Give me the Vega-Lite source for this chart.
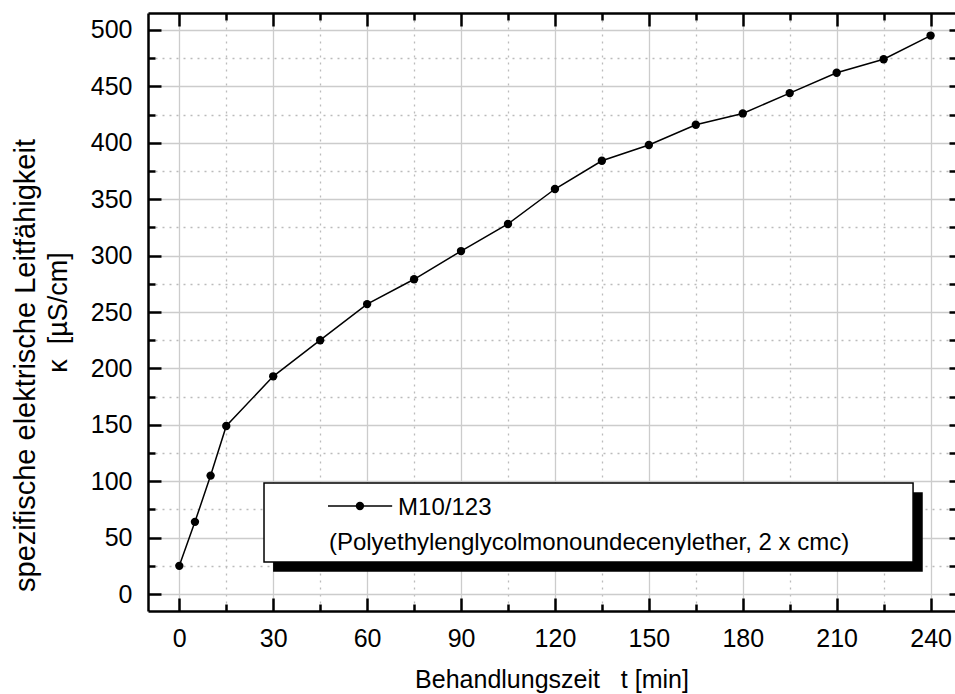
{
  "$schema": "https://vega.github.io/schema/vega-lite/v6.json",
  "width": 807,
  "height": 598,
  "autosize": {"type": "none"},
  "padding": {"left": 148, "top": 13, "right": 0, "bottom": 83},
  "background": "white",
  "title": {
    "text": "spezifische elektrische Leitfähigkeit",
    "orient": "left",
    "anchor": "start",
    "frame": "group",
    "dx": 19,
    "fontSize": 29,
    "fontWeight": "normal",
    "color": "black",
    "offset": 3
  },
  "config": {
    "font": "Liberation Sans",
    "view": {"stroke": null},
    "axis": {"labelColor": "black", "titleColor": "black", "titleFontWeight": "normal"}
  },
  "data": {
    "values": [
      {"t": 0, "kappa": 25},
      {"t": 5, "kappa": 64},
      {"t": 10, "kappa": 105},
      {"t": 15, "kappa": 149},
      {"t": 30, "kappa": 193},
      {"t": 45, "kappa": 225},
      {"t": 60, "kappa": 257},
      {"t": 75, "kappa": 279},
      {"t": 90, "kappa": 304},
      {"t": 105, "kappa": 328},
      {"t": 120, "kappa": 359},
      {"t": 135, "kappa": 384},
      {"t": 150, "kappa": 398},
      {"t": 165, "kappa": 416},
      {"t": 180, "kappa": 426},
      {"t": 195, "kappa": 444},
      {"t": 210, "kappa": 462},
      {"t": 225, "kappa": 474},
      {"t": 240, "kappa": 495}
    ]
  },
  "layer": [
    {
      "mark": {"type": "line", "color": "black", "strokeWidth": 1.5},
      "encoding": {
        "x": {
          "field": "t", "type": "quantitative",
          "scale": {"domain": [-10, 247.8], "nice": false, "zero": false},
          "axis": {
            "orient": "bottom",
            "values": [0, 15, 30, 45, 60, 75, 90, 105, 120, 135, 150, 165, 180, 195, 210, 225, 240],
            "labelExpr": "datum.value % 30 === 0 ? datum.label : ''",
            "labelFontSize": 25,
            "labelPadding": 28,
            "labelFlush": false,
            "labelOverlap": false,
            "tickSize": -13,
            "tickDash": {"condition": {"test": "datum.value % 30 !== 0", "value": [7, 40]}, "value": []},
            "tickColor": "black",
            "tickWidth": 2.5,
            "domainColor": "black",
            "domainWidth": 2.5,
            "grid": true,
            "gridColor": {"condition": {"test": "datum.value % 30 !== 0", "value": "#bbbbbb"}, "value": "#cccccc"},
            "gridDash": {"condition": {"test": "datum.value % 30 !== 0", "value": [2, 5]}, "value": []},
            "gridWidth": 1.3,
            "title": "Behandlungszeit\u00a0\u00a0 t [min]",
            "titleFontSize": 25,
            "titlePadding": 16
          }
        },
        "y": {
          "field": "kappa", "type": "quantitative",
          "scale": {"domain": [-15, 515], "nice": false, "zero": false},
          "axis": {
            "orient": "left",
            "values": [0, 25, 50, 75, 100, 125, 150, 175, 200, 225, 250, 275, 300, 325, 350, 375, 400, 425, 450, 475, 500],
            "labelExpr": "datum.value % 50 === 0 ? datum.label : ''",
            "labelFontSize": 25,
            "labelPadding": 29,
            "labelOverlap": false,
            "tickSize": -13,
            "tickDash": {"condition": {"test": "datum.value % 50 !== 0", "value": [7, 40]}, "value": []},
            "tickColor": "black",
            "tickWidth": 2.5,
            "domainColor": "black",
            "domainWidth": 2.5,
            "grid": true,
            "gridColor": {"condition": {"test": "datum.value % 50 !== 0", "value": "#bbbbbb"}, "value": "#cccccc"},
            "gridDash": {"condition": {"test": "datum.value % 50 !== 0", "value": [2, 5]}, "value": []},
            "gridWidth": 1.3,
            "title": "κ\u00a0\u00a0[µS/cm]",
            "titleFontSize": 27,
            "titlePadding": 18
          }
        }
      }
    },
    {
      "mark": {"type": "point", "filled": true, "color": "black", "size": 70, "opacity": 1},
      "encoding": {
        "x": {"field": "t", "type": "quantitative", "axis": null},
        "y": {"field": "kappa", "type": "quantitative", "axis": null}
      }
    },
    {
      "data": {"values": [{}]},
      "mark": {"type": "rect", "color": "black"},
      "encoding": {
        "x": {
          "datum": 29.96, "type": "quantitative",
          "axis": {
            "orient": "top",
            "values": [0, 15, 30, 45, 60, 75, 90, 105, 120, 135, 150, 165, 180, 195, 210, 225, 240],
            "labels": false,
            "grid": false,
            "title": null,
            "tickSize": -13,
            "tickDash": {"condition": {"test": "datum.value % 30 !== 0", "value": [7, 40]}, "value": []},
            "tickColor": "black",
            "tickWidth": 2.5,
            "domainColor": "black",
            "domainWidth": 2.5
          }
        },
        "x2": {"datum": 237.5},
        "y": {
          "datum": 90.2, "type": "quantitative",
          "axis": {
            "orient": "right",
            "values": [0, 25, 50, 75, 100, 125, 150, 175, 200, 225, 250, 275, 300, 325, 350, 375, 400, 425, 450, 475, 500],
            "labels": false,
            "grid": false,
            "title": null,
            "domain": false,
            "offset": -6,
            "tickSize": 13,
            "tickColor": "black",
            "tickWidth": 2.5
          }
        },
        "y2": {"datum": 19.85}
      }
    },
    {
      "data": {"values": [{}]},
      "mark": {"type": "rect", "fill": "white", "stroke": "black", "strokeWidth": 1.5},
      "encoding": {
        "x": {"datum": 27.06, "type": "quantitative", "axis": null},
        "x2": {"datum": 234.4},
        "y": {"datum": 98.5, "type": "quantitative", "axis": null},
        "y2": {"datum": 28.45}
      }
    },
    {
      "data": {"values": [{}]},
      "mark": {"type": "rule", "color": "black", "strokeWidth": 1.5},
      "encoding": {
        "x": {"datum": 47.5, "type": "quantitative", "axis": null},
        "x2": {"datum": 68.0},
        "y": {"datum": 78.1, "type": "quantitative", "axis": null}
      }
    },
    {
      "data": {"values": [{}]},
      "mark": {"type": "point", "filled": true, "color": "black", "size": 70, "opacity": 1},
      "encoding": {
        "x": {"datum": 57.7, "type": "quantitative", "axis": null},
        "y": {"datum": 78.1, "type": "quantitative", "axis": null}
      }
    },
    {
      "data": {"values": [{}]},
      "mark": {"type": "text", "text": "M10/123", "align": "left", "baseline": "alphabetic", "fontSize": 24, "color": "black"},
      "encoding": {
        "x": {"datum": 69.9, "type": "quantitative", "axis": null},
        "y": {"datum": 70.0, "type": "quantitative", "axis": null}
      }
    },
    {
      "data": {"values": [{}]},
      "mark": {"type": "text", "text": "(Polyethylenglycolmonoundecenylether, 2 x cmc)", "align": "left", "baseline": "alphabetic", "fontSize": 24, "color": "black"},
      "encoding": {
        "x": {"datum": 47.8, "type": "quantitative", "axis": null},
        "y": {"datum": 39.0, "type": "quantitative", "axis": null}
      }
    }
  ],
  "resolve": {"axis": {"x": "independent", "y": "independent"}}
}
